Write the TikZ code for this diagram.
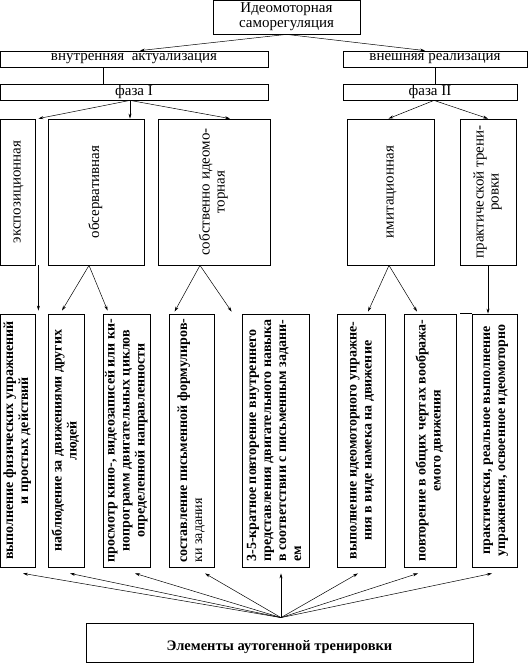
\documentclass[tikz,border=0pt]{standalone}
\usepackage{fontspec}
\usepackage{graphicx}
\setmainfont{Liberation Serif}
\usetikzlibrary{positioning,arrows.meta}
\newcommand{\vtext}[2][c]{\rotatebox{90}{\begin{tabular}{@{}#1@{}}#2\end{tabular}}}

\begin{document}
\begin{tikzpicture}[x=1pt, y=1pt,
    boxnode/.style={draw=black, line width=0.8pt, inner sep=0pt},
    headtext/.style={font=\fontsize{15}{15}\selectfont},
    celltext/.style={font=\bfseries\fontsize{14}{15}\selectfont},
    link/.style={->, >={Stealth[length=5pt,width=3pt]}, line width=0.5pt}
    ]
        \useasboundingbox (0,0) rectangle (528,-663);
        %Nodes
        \node[boxnode, headtext, align=center, minimum width=147, minimum height=34]
            (samoreg) at (286.5,-17)  {Идеомоторная\\саморегуляция};
        \node[boxnode, headtext, minimum width=268, minimum height=16]
            (vnutr)   at (134,-59)    {внутренняя\ \ актуализация};
        \node[boxnode, headtext, minimum width=184, minimum height=16]
            (vnesh)   at (435,-59)    {внешняя реализация};
        \node[boxnode, headtext, minimum width=268, minimum height=16]
            (faza1)   at (134,-92)    {фаза I};
        \node[boxnode, headtext, minimum width=174, minimum height=16]
            (faza2)   at (430,-92)    {фаза II};

        \node[boxnode, headtext, minimum width=35, minimum height=146]
            (ekspo)   at (17.5,-192)  {\vtext{экспозиционная}};
        \node[boxnode, headtext, minimum width=96, minimum height=146]
            (obser)   at (96,-192)    {\vtext{обсервативная}};
        \node[boxnode, headtext, minimum width=112, minimum height=146]
            (sobst)   at (214,-192)   {\vtext{собственно идеомо-\\торная}};
        \node[boxnode, headtext, minimum width=87, minimum height=146]
            (imit)    at (390.5,-192) {\vtext{имитационная}};
        \node[boxnode, headtext, minimum width=56, minimum height=146]
            (prakt)   at (488,-192)   {\vtext{практической трени-\\ровки}};

        \node[boxnode, celltext, minimum width=35, minimum height=253]
            (el1) at (17.5,-440.5)  {\vtext{выполнение физических упражнений\\и простых действий}};
        \node[boxnode, celltext, minimum width=36, minimum height=253]
            (el2) at (66,-440.5)    {\vtext{наблюдение за движениями других\\людей}};
        \node[boxnode, celltext, minimum width=47, minimum height=253]
            (el3) at (126.5,-440.5) {\vtext{просмотр кино-, видеозаписей или ки-\\нопрограмм двигательных циклов\\определенной направленности}};
        \node[boxnode, celltext, minimum width=45, minimum height=253]
            (el4) at (191.5,-440.5) {\vtext[l]{составление письменной формулиров-\\{\mdseries ки задания}}};
        \node[boxnode, celltext, minimum width=67, minimum height=253]
            (el5) at (275.5,-440.5) {\vtext[l]{3-5-кратное повторение внутреннего\\представления двигательного навыка\\в соответствии с письменным задани-\\ем}};
        \node[boxnode, celltext, minimum width=48, minimum height=253]
            (el6) at (361,-440.5)   {\vtext{выполнение идеомоторного упражне-\\ния в виде намека на движение}};
        \node[boxnode, celltext, minimum width=52, minimum height=253]
            (el7) at (430,-440.5)   {\vtext{повторение в общих чертах вообража-\\емого движения}};
        \node[boxnode, celltext, minimum width=45, minimum height=253]
            (el8) at (494.5,-440.5) {\vtext{практически, реальное выполнение\\упражнения, освоенное идеомоторно}};

        \node[boxnode, minimum width=387, minimum height=39]
            (elem) at (279.5,-642.5) {};
        \node[font=\bfseries\fontsize{14.5}{15}\selectfont]
            (elemtext) at ([yshift=-5pt]elem.center) {Элементы аутогенной тренировки};

        %Lines
        \draw[link] (samoreg.south) -- ([xshift=6pt]vnutr.north);
        \draw[link] (samoreg.south) -- ([xshift=-10pt]vnesh.north);
        \draw[line width=0.5pt] ([xshift=-31pt]vnutr.south) -- ([xshift=-31pt]faza1.north);
        \draw[line width=0.5pt] (vnesh.south) -- (vnesh.south |- faza2.north);
        \draw[line width=0.8pt] (el8.north west) -- ++(-12,0);

        \coordinate (f1) at ([xshift=-4pt]faza1.south);
        \draw[link] (f1) -- ([xshift=3pt]ekspo.north east);
        \draw[link] (f1) -- (f1 |- obser.north);
        \draw[link] (f1) -- ([xshift=16pt]sobst.north);
        \coordinate (f2) at ([xshift=4pt]faza2.south);
        \draw[link] (f2) -- ([xshift=-2pt]imit.north);
        \draw[link] (f2) -- (prakt.north);

        \draw[link] ([xshift=3pt]ekspo.south east) -- ([xshift=3pt,yshift=3pt]el1.north east);
        \draw[link] ([xshift=-7pt]obser.south) -- ([xshift=-4pt,yshift=3pt]el2.north);
        \draw[link] ([xshift=-7pt]obser.south) -- ([xshift=5pt,yshift=3pt]el3.north west);
        \draw[link] ([xshift=-14pt]sobst.south) -- ([xshift=6pt,yshift=2pt]el4.north west);
        \draw[link] ([xshift=-14pt]sobst.south) -- ([xshift=-10pt,yshift=2pt]el5.north west);
        \draw[link] ([xshift=-1.5pt]imit.south) -- ([xshift=7pt,yshift=2pt]el6.north);
        \draw[link] ([xshift=-1.5pt]imit.south) -- ([xshift=-13pt,yshift=2pt]el7.north);
        \draw[link] (prakt.south) -- (prakt.south |- el8.north);

        \coordinate (hub) at ([xshift=1.5pt,yshift=5pt]elem.north);
        \foreach \n/\dx in {el1/5.5, el2/4, el3/8.5, el4/13.5, el5/5.5, el6/-3, el7/-12, el8/-2.5}
            \draw[link] (hub) -- ([xshift=\dx pt,yshift=-6pt]\n.south);
    \end{tikzpicture}
\end{document}
